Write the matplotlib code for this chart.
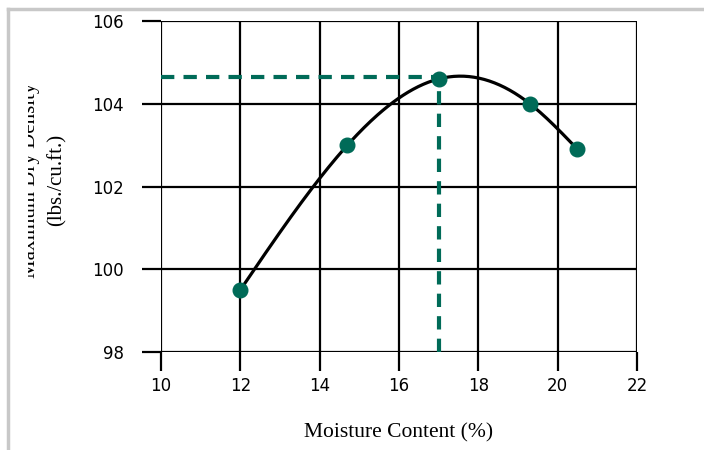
import numpy as np
import matplotlib
matplotlib.use("Agg")
import matplotlib.pyplot as plt
from matplotlib.lines import Line2D
from matplotlib.patches import Rectangle

# Proctor test points
moisture = [12.0, 14.7, 17.0, 19.3, 20.5]
density = [99.5, 103.0, 104.6, 104.0, 102.9]

# optimum moisture / max dry density guide lines
opt_moisture = 17.0
max_density = 104.65

x_ticks = [10, 12, 14, 16, 18, 20, 22]
y_ticks = [98, 100, 102, 104, 106]

teal = '#006b58'


def natural_spline(xs, ys, xq):
    # plain natural cubic spline through the measured points
    xs = np.asarray(xs, float)
    ys = np.asarray(ys, float)
    n = len(xs)
    h = np.diff(xs)
    A = np.zeros((n, n))
    b = np.zeros(n)
    A[0, 0] = A[-1, -1] = 1
    for i in range(1, n - 1):
        A[i, i - 1] = h[i - 1]
        A[i, i] = 2 * (h[i - 1] + h[i])
        A[i, i + 1] = h[i]
        b[i] = 6 * ((ys[i + 1] - ys[i]) / h[i] - (ys[i] - ys[i - 1]) / h[i - 1])
    M = np.linalg.solve(A, b)
    out = np.empty_like(xq)
    for k, x in enumerate(xq):
        i = min(max(np.searchsorted(xs, x) - 1, 0), n - 2)
        t0 = xs[i + 1] - x
        t1 = x - xs[i]
        out[k] = (M[i] * t0 ** 3 + M[i + 1] * t1 ** 3) / (6 * h[i]) \
            + (ys[i] / h[i] - M[i] * h[i] / 6) * t0 \
            + (ys[i + 1] / h[i] - M[i + 1] * h[i] / 6) * t1
    return out


fig = plt.figure(figsize=(7.04, 4.5), dpi=100)
ax = fig.add_axes([0.2287, 0.2178, 0.6761, 0.7355])

xs = np.linspace(moisture[0], moisture[-1], 200)
ax.plot(xs, natural_spline(moisture, density, xs), color='black', lw=2.3, zorder=3)

ax.plot([x_ticks[0], opt_moisture], [max_density, max_density], color=teal,
        lw=3, dashes=(3.2, 2.2), zorder=4)
ax.plot([opt_moisture, opt_moisture], [y_ticks[0], max_density], color=teal,
        lw=3, dashes=(3.2, 2.2), zorder=4)

ax.plot(moisture, density, 'o', color=teal, ms=10.5, zorder=5)

ax.set_xlim(x_ticks[0], x_ticks[-1])
ax.set_ylim(y_ticks[0], y_ticks[-1])
ax.set_xticks(x_ticks)
ax.set_yticks(y_ticks)
ax.grid(True, color='black', lw=1.6)
ax.set_axisbelow(True)
for s in ax.spines.values():
    s.set_visible(False)
ax.tick_params(axis='both', length=14, width=1.6, labelsize=12)
ax.tick_params(axis='y', pad=13)
ax.tick_params(axis='x', pad=4)

lab_font = dict(family='Liberation Serif')
ax.set_xlabel('Moisture Content (%)', fontsize=15.5, labelpad=20, **lab_font)

# y label, first line is cut off by the frame in the original
fig.text(31 / 704, 0.6, 'Maximum Dry Density', rotation=90, ha='center',
         va='center', fontsize=15, zorder=1, **lab_font)
fig.text(57 / 704, 0.6, '(lbs./cu.ft.)', rotation=90, ha='center',
         va='center', fontsize=15, zorder=1, **lab_font)
fig.add_artist(Rectangle((0, 0), 28 / 704, 1, transform=fig.transFigure,
                         facecolor='white', edgecolor='none', zorder=5))

# grey frame on top and left
fig.add_artist(Line2D([8 / 704, 1], [1 - 9 / 450, 1 - 9 / 450], color='#c8c8c8',
                      lw=2.5, transform=fig.transFigure, zorder=6))
fig.add_artist(Line2D([8 / 704, 8 / 704], [0, 1 - 9 / 450], color='#c8c8c8',
                      lw=2.5, transform=fig.transFigure, zorder=6))

fig.savefig('out.png', dpi=100)
